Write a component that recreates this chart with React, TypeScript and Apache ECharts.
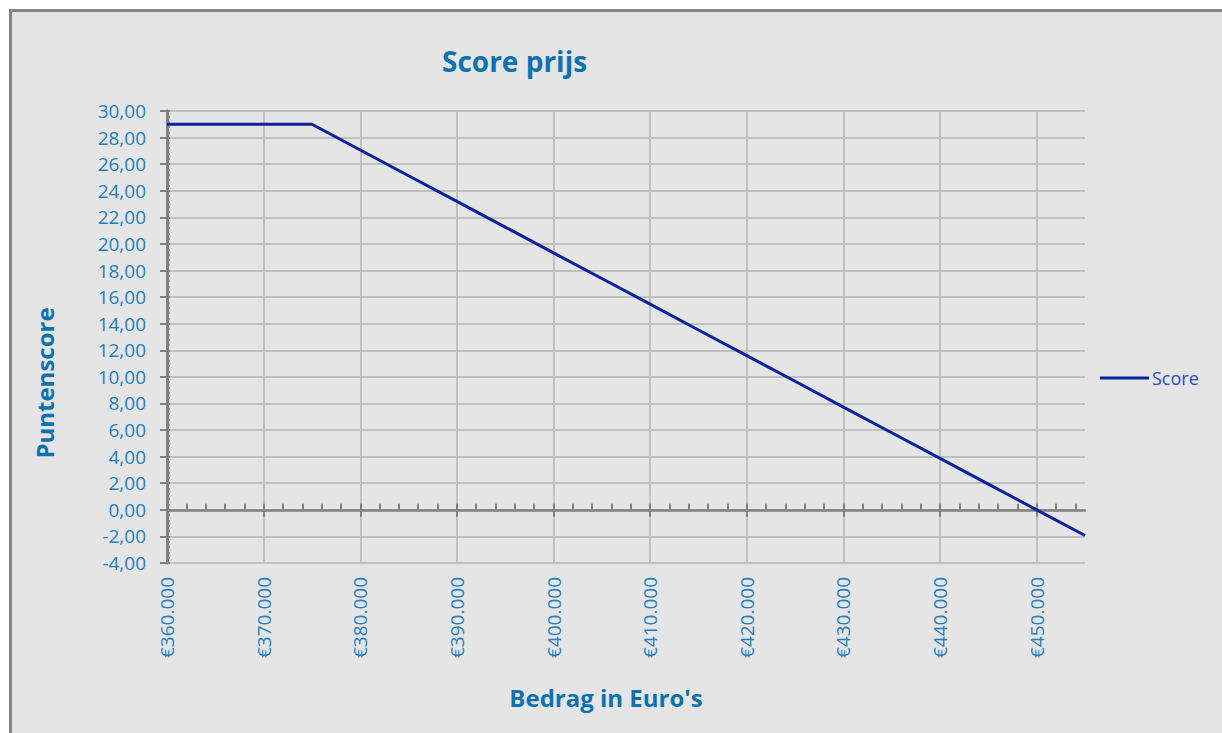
import React, { useEffect, useRef } from "react";
import * as echarts from "echarts";

const amounts = [
  360000, 365000, 370000, 375000, 380000, 385000, 390000, 395000, 400000, 405000,
  410000, 415000, 420000, 425000, 430000, 435000, 440000, 445000, 450000, 455000,
];
const scores = [
  29, 29, 29, 29, 27.07, 25.13, 23.2, 21.27, 19.33, 17.4,
  15.47, 13.53, 11.6, 9.67, 7.73, 5.8, 3.87, 1.93, 0, -1.93,
];
const xTickValues = [360000, 370000, 380000, 390000, 400000, 410000, 420000, 430000, 440000, 450000];
const xGridValues = [370000, 380000, 390000, 400000, 410000, 420000, 430000, 440000, 450000];

const FONT = "'Open Sans', sans-serif";
const LABEL = "#1f80bf";
const NAME = "#0f72b0";
const AXIS = "#808080";
const GRID = "#c0c0c0";

const fmtEuro = (v: number) => {
  if (v % 10000 !== 0) return "";
  const s = String(Math.round(v));
  return "€" + s.replace(/\B(?=(\d{3})+(?!\d))/g, ".");
};

export default function App() {
  const ref = useRef<HTMLDivElement>(null);
  useEffect(() => {
    if (!ref.current) return;
    const chart = echarts.init(ref.current, undefined, { renderer: "svg" });
    const xBase = { type: "value", min: 360000, max: 455000, interval: 10000 };
    chart.setOption({
      animation: false,
      backgroundColor: "transparent",
      textStyle: { fontFamily: FONT },
      title: {
        text: "Score prijs",
        left: 437,
        top: 42,
        textStyle: { fontFamily: FONT, fontWeight: "bold", fontSize: 28, color: NAME },
      },
      legend: {
        left: 1095,
        top: 364,
        icon: "rect",
        itemWidth: 49,
        itemHeight: 3,
        itemGap: 10,
        textStyle: { fontFamily: FONT, fontSize: 18, color: "#2a4cc4", padding: [0, 0, 0, -2] },
        data: ["Score"],
      },
      grid: { left: 167, right: 137, top: 111, bottom: 170 },
      xAxis: [
        {
          ...xBase,
          position: "bottom",
          axisLine: { show: false, onZero: false },
          axisTick: { show: false },
          splitLine: { show: false },
          axisLabel: {
            rotate: 90,
            margin: 14,
            fontFamily: FONT,
            fontSize: 19,
            color: LABEL,
            formatter: fmtEuro,
          },
          name: "Bedrag in Euro's",
          nameLocation: "middle",
          nameGap: 122,
          nameTextStyle: {
            fontFamily: FONT,
            fontWeight: "bold",
            fontSize: 24,
            color: NAME,
            padding: [0, 40, 0, 0],
          },
        },
        {
          ...xBase,
          position: "bottom",
          z: 3,
          axisLine: { show: true, onZero: true, lineStyle: { color: AXIS, width: 2.5 } },
          axisTick: {
            show: true,
            inside: true,
            length: 6,
            customValues: xTickValues,
            lineStyle: { color: AXIS, width: 2 },
          },
          minorTick: { show: true, splitNumber: 5, length: 6, lineStyle: { color: AXIS, width: 2 } },
          axisLabel: { show: false },
          splitLine: { show: false },
        },
        {
          ...xBase,
          position: "bottom",
          z: 3,
          axisLine: { show: false, onZero: true },
          axisTick: {
            show: true,
            inside: false,
            length: 7,
            customValues: xTickValues,
            lineStyle: { color: AXIS, width: 2 },
          },
          axisLabel: { show: false },
          splitLine: { show: false },
        },
      ],
      yAxis: [
        {
          type: "value",
          min: -4,
          max: 30,
          interval: 2,
          position: "left",
          axisLine: { show: true, onZero: false, lineStyle: { color: AXIS, width: 3 } },
          axisTick: { show: true, inside: false, length: 7, lineStyle: { color: AXIS, width: 2 } },
          axisLabel: {
            margin: 21,
            fontFamily: FONT,
            fontSize: 19,
            color: LABEL,
            formatter: (v: number) => v.toFixed(2).replace(".", ","),
          },
          splitLine: { show: true, lineStyle: { color: GRID, width: 2 } },
          name: "Puntenscore",
          nameLocation: "middle",
          nameGap: 111,
          nameTextStyle: {
            fontFamily: FONT,
            fontWeight: "bold",
            fontSize: 24,
            color: NAME,
            padding: [0, 92, 0, 0],
          },
        },
        {
          type: "value",
          min: -4,
          max: 30,
          interval: 2,
          position: "left",
          axisLine: { show: false, onZero: false },
          axisTick: { show: true, inside: true, length: 3, lineStyle: { color: AXIS, width: 2 } },
          minorTick: { show: true, splitNumber: 5, length: 3, lineStyle: { color: AXIS, width: 1.5 } },
          axisLabel: { show: false },
          splitLine: { show: false },
        },
      ],
      series: [
        {
          name: "Score",
          type: "line",
          xAxisIndex: 0,
          yAxisIndex: 0,
          z: 5,
          symbol: "none",
          lineStyle: { color: "#0a229c", width: 3 },
          itemStyle: { color: "#0a229c" },
          data: amounts.map((a, i) => [a, scores[i]]),
          markLine: {
            silent: true,
            symbol: "none",
            z: 1,
            label: { show: false },
            lineStyle: { color: GRID, width: 2, type: "solid" },
            data: xGridValues.map((v) => ({ xAxis: v })),
          },
        },
      ],
    });
    return () => chart.dispose();
  }, []);

  return (
    <div style={{ position: "absolute", left: 0, top: 0, width: 1222, height: 733, background: "#ffffff", overflow: "hidden" }}>
      <div
        style={{
          position: "absolute",
          left: 9,
          top: 9,
          width: 1240,
          height: 760,
          background: "#e5e5e5",
          borderLeft: "3px solid #868686",
          borderTop: "3px solid #868686",
        }}
      />
      <div ref={ref} style={{ position: "absolute", left: 0, top: 0, width: 1222, height: 733 }} />
    </div>
  );
}
